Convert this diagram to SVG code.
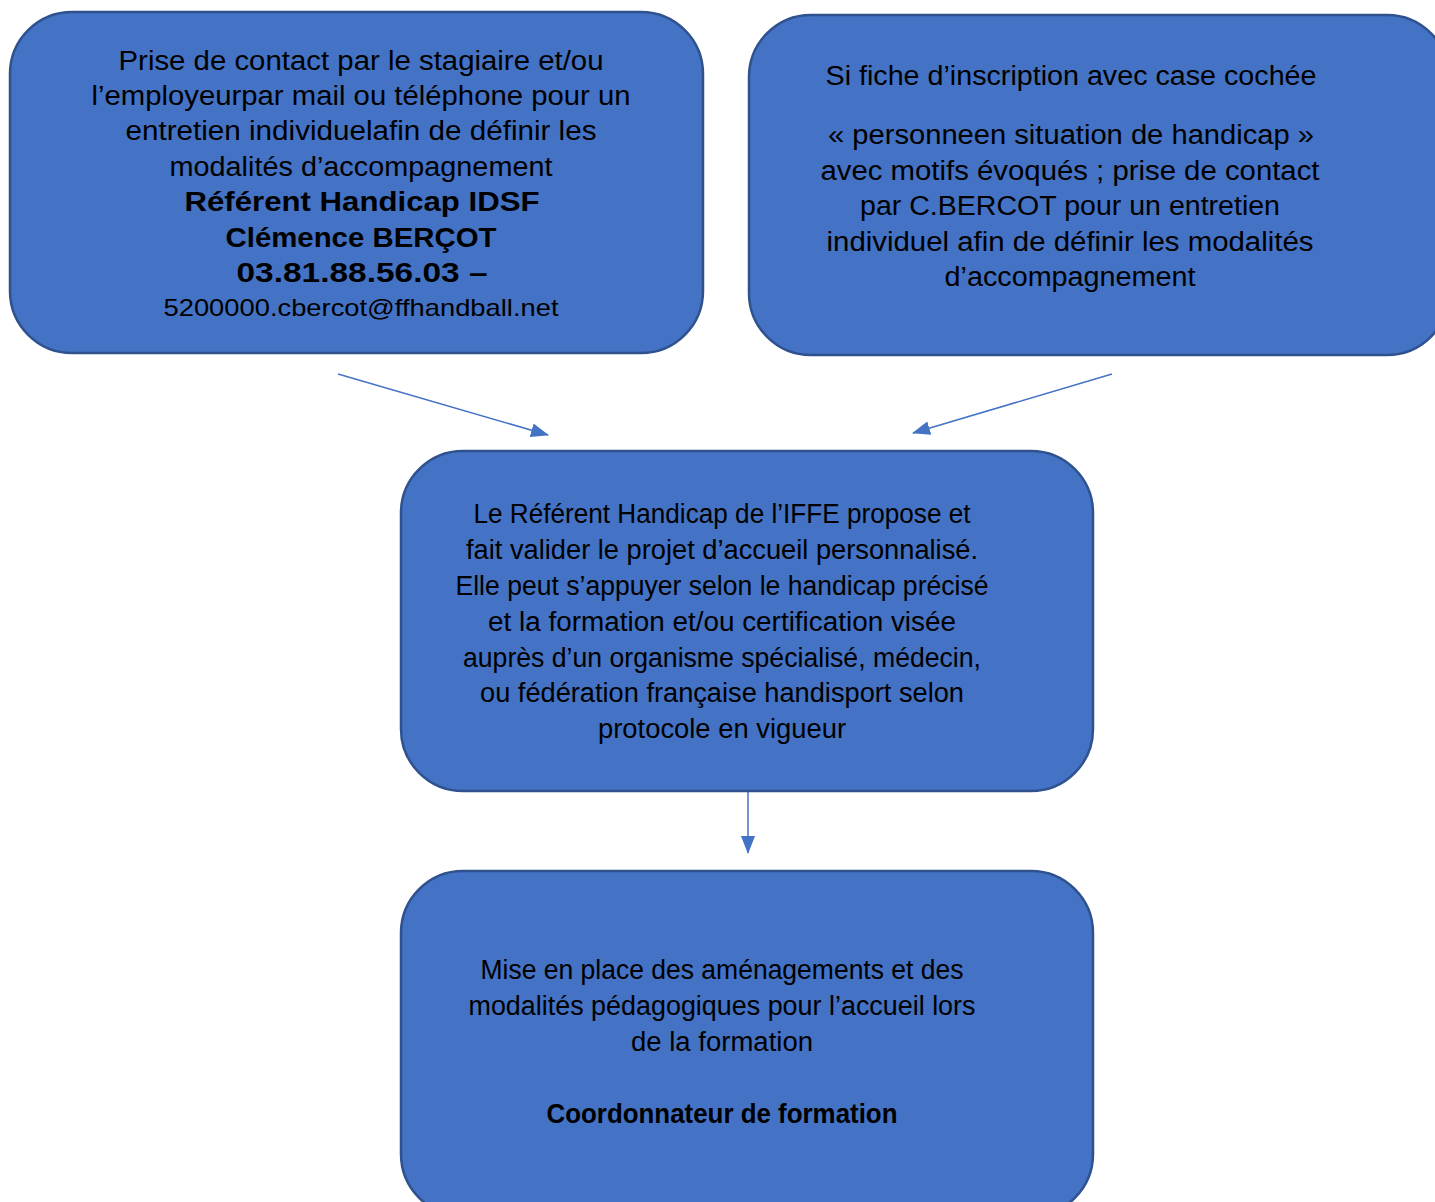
<svg xmlns="http://www.w3.org/2000/svg" width="1435" height="1202" viewBox="0 0 1435 1202">
<defs>
<style>
.box{fill:#4472C4;stroke:#2F528F;stroke-width:2.5}
.t{font-family:"Liberation Sans",Arial,sans-serif;fill:#000;text-anchor:middle}
.n{font-size:27px}
.s{font-size:24px}
.b{font-weight:bold}
.conn{stroke:#4472C4;stroke-width:1.5;fill:none}
</style>
<marker id="ah" markerUnits="userSpaceOnUse" markerWidth="18" markerHeight="14" refX="17" refY="7" orient="auto">
<path d="M0,0 L18,7 L0,14 Z" fill="#4472C4"/>
</marker>
</defs>
<rect width="1435" height="1202" fill="#fff"/>
<g id="connectors">
<line class="conn" x1="338" y1="374" x2="548" y2="435" marker-end="url(#ah)"/>
<line class="conn" x1="1112" y1="374" x2="913" y2="433" marker-end="url(#ah)"/>
<line class="conn" x1="748" y1="791" x2="748" y2="853" marker-end="url(#ah)"/>
</g>
<g id="node1">
<rect class="box" x="10" y="12" width="693" height="341" rx="62"/>
<text class="t n" x="361" y="70" textLength="485" lengthAdjust="spacingAndGlyphs">Prise de contact par le stagiaire et/ou</text>
<text class="t n" x="361" y="105" textLength="539" lengthAdjust="spacingAndGlyphs">l’employeurpar mail ou téléphone pour un</text>
<text class="t n" x="361" y="140" textLength="471" lengthAdjust="spacingAndGlyphs">entretien individuelafin de définir les</text>
<text class="t n" x="361" y="176" textLength="383" lengthAdjust="spacingAndGlyphs">modalités d’accompagnement</text>
<text class="t n b" x="362" y="211" textLength="355" lengthAdjust="spacingAndGlyphs">Référent Handicap IDSF</text>
<text class="t n b" x="361" y="247" textLength="271" lengthAdjust="spacingAndGlyphs">Clémence BERÇOT</text>
<text class="t n b" x="362" y="282" textLength="251" lengthAdjust="spacingAndGlyphs">03.81.88.56.03 –</text>
<text class="t s" x="361" y="316" textLength="395" lengthAdjust="spacingAndGlyphs">5200000.cbercot@ffhandball.net</text>
</g>
<g id="node2">
<rect class="box" x="749" y="15" width="700" height="340" rx="62"/>
<text class="t n" x="1071" y="85" textLength="491" lengthAdjust="spacingAndGlyphs">Si fiche d’inscription avec case cochée</text>
<text class="t n" x="1071" y="144" textLength="486" lengthAdjust="spacingAndGlyphs">« personneen situation de handicap »</text>
<text class="t n" x="1070" y="180" textLength="499" lengthAdjust="spacingAndGlyphs">avec motifs évoqués ; prise de contact</text>
<text class="t n" x="1070" y="215" textLength="420" lengthAdjust="spacingAndGlyphs">par C.BERCOT pour un entretien</text>
<text class="t n" x="1070" y="251" textLength="487" lengthAdjust="spacingAndGlyphs">individuel afin de définir les modalités</text>
<text class="t n" x="1070" y="286" textLength="251" lengthAdjust="spacingAndGlyphs">d’accompagnement</text>
</g>
<g id="node3">
<rect class="box" x="401" y="451" width="692" height="340" rx="62"/>
<text class="t n" x="722" y="523" textLength="497" lengthAdjust="spacingAndGlyphs">Le Référent Handicap de l’IFFE propose et</text>
<text class="t n" x="722" y="559" textLength="512" lengthAdjust="spacingAndGlyphs">fait valider le projet d’accueil personnalisé.</text>
<text class="t n" x="722" y="595" textLength="533" lengthAdjust="spacingAndGlyphs">Elle peut s’appuyer selon le handicap précisé</text>
<text class="t n" x="722" y="631" textLength="468" lengthAdjust="spacingAndGlyphs">et la formation et/ou certification visée</text>
<text class="t n" x="722" y="667" textLength="518" lengthAdjust="spacingAndGlyphs">auprès d’un organisme spécialisé, médecin,</text>
<text class="t n" x="722" y="702" textLength="484" lengthAdjust="spacingAndGlyphs">ou fédération française handisport selon</text>
<text class="t n" x="722" y="738" textLength="248" lengthAdjust="spacingAndGlyphs">protocole en vigueur</text>
</g>
<g id="node4">
<rect class="box" x="401" y="871" width="692" height="345" rx="62"/>
<text class="t n" x="722" y="979" textLength="483" lengthAdjust="spacingAndGlyphs">Mise en place des aménagements et des</text>
<text class="t n" x="722" y="1015" textLength="507" lengthAdjust="spacingAndGlyphs">modalités pédagogiques pour l’accueil lors</text>
<text class="t n" x="722" y="1051" textLength="182" lengthAdjust="spacingAndGlyphs">de la formation</text>
<text class="t n b" x="722" y="1123" textLength="351" lengthAdjust="spacingAndGlyphs">Coordonnateur de formation</text>
</g>
</svg>
